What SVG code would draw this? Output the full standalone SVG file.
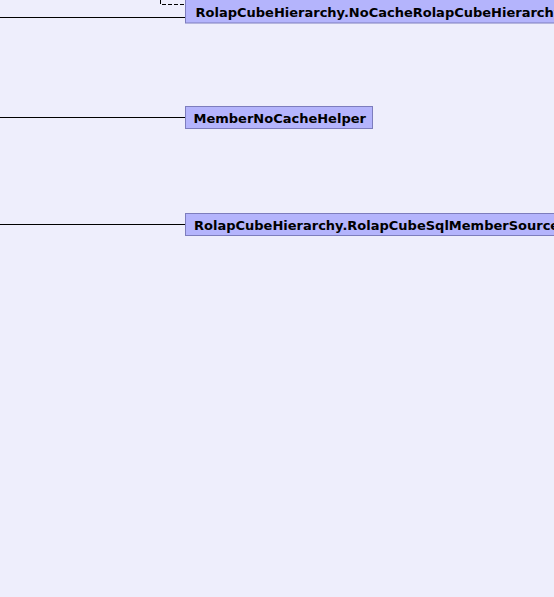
<svg xmlns="http://www.w3.org/2000/svg" width="554" height="597" viewBox="0 0 554 597">
<style>
.node rect{fill:#b4b4fc;stroke:#7d7dbd;stroke-width:1}
.node text{font-family:"DejaVu Sans",sans-serif;font-weight:bold;font-size:13px;fill:#000}
.edge{stroke:#000;stroke-width:1;fill:none}
.dash{stroke-dasharray:4,2}
</style>
<rect x="0" y="0" width="554" height="597" fill="#eeeefc"/>
<g id="connectors">
<path class="edge" d="M0,17.5H185.5"/>
<path class="edge dash" d="M160.5,0V4.5H185.5"/>
<path class="edge" d="M0,117.5H185.5"/>
<path class="edge" d="M0,224.5H185.5"/>
</g>
<g id="node-nocache" class="node">
<rect x="185.5" y="-0.5" width="400" height="23.5"/>
<text x="195.5" y="16.5">RolapCubeHierarchy.NoCacheRolapCubeHierarchyMemberReader</text>
</g>
<g id="node-membernocachehelper" class="node">
<rect x="185.5" y="106.5" width="187" height="22"/>
<text x="193.5" y="123">MemberNoCacheHelper</text>
</g>
<g id="node-sqlmembersource" class="node">
<rect x="185.5" y="213.5" width="400" height="22"/>
<text x="194" y="230">RolapCubeHierarchy.RolapCubeSqlMemberSource</text>
</g>
</svg>
